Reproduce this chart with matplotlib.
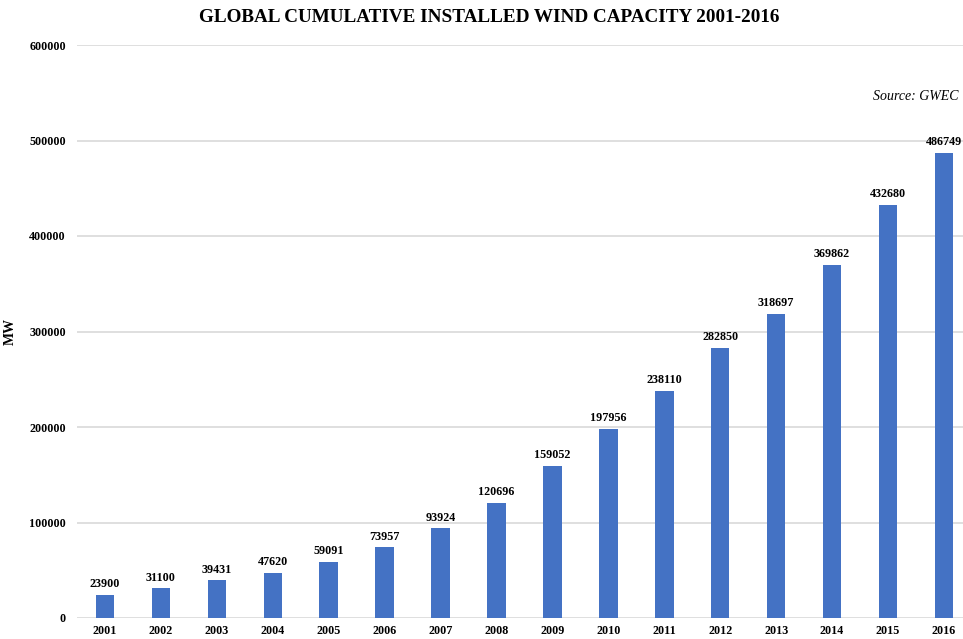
import matplotlib
matplotlib.use("Agg")
import matplotlib.pyplot as plt

years = ["2001", "2002", "2003", "2004", "2005", "2006", "2007", "2008",
         "2009", "2010", "2011", "2012", "2013", "2014", "2015", "2016"]
capacity = [23900, 31100, 39431, 47620, 59091, 73957, 93924, 120696,
            159052, 197956, 238110, 282850, 318697, 369862, 432680, 486749]
yticks = [0, 100000, 200000, 300000, 400000, 500000, 600000]

plt.rcParams['font.family'] = ['Liberation Serif', 'DejaVu Serif']

fig = plt.figure(figsize=(9.63, 6.39), dpi=100)
ax = fig.add_axes([77/963, 1-618/639, (963-77)/963, (618-45)/639])

x = list(range(len(years)))
bars = ax.bar(x, capacity, width=0.33, color="#4472C4", zorder=3)
for xi, v in zip(x, capacity):
    ax.text(xi, v + 5000, str(v), ha="center", va="bottom",
            fontsize=8.7, fontweight="bold", zorder=4)

ax.set_xlim(-0.5, 15.34)
ax.set_ylim(0, 600000)
ax.set_yticks(yticks)
ax.set_yticklabels([str(t) for t in yticks], fontsize=8.7, fontweight="bold")
ax.set_xticks(x)
ax.set_xticklabels(years, fontsize=8.7, fontweight="bold")
ax.yaxis.grid(True, color="#d9d9d9", linewidth=1.2, zorder=0)
ax.tick_params(axis="both", length=0, pad=8)
ax.tick_params(axis="x", pad=5)
for s in ax.spines.values():
    s.set_visible(False)

ax.set_ylabel("MW", fontsize=10, fontweight="bold", labelpad=10)
ax.yaxis.set_label_coords(-60/886, 0.5)

fig.text(489/963, 1-17/639, "GLOBAL CUMULATIVE INSTALLED WIND CAPACITY 2001-2016",
         ha="center", va="center", fontsize=13.8, fontweight="bold")
fig.text(958/963, 1-97/639, "Source: GWEC", ha="right", va="center",
         fontsize=10, fontstyle="italic")

fig.savefig("out.png", dpi=100, facecolor="white")
